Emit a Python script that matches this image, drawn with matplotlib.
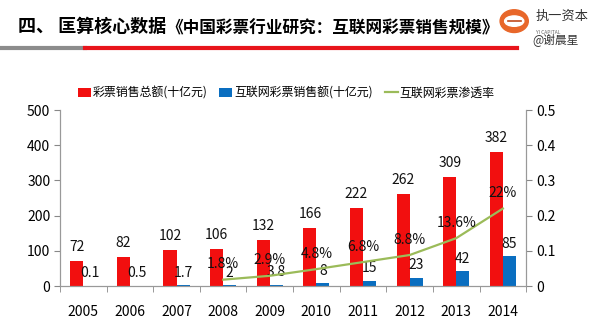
import matplotlib.pyplot as plt
import matplotlib.patches as mpatches
import numpy as np

plt.rcParams['font.family'] = ['Noto Sans CJK SC', 'DejaVu Sans']

# data
years = ["2005", "2006", "2007", "2008", "2009", "2010", "2011", "2012", "2013", "2014"]
total_sales = [72, 82, 102, 106, 132, 166, 222, 262, 309, 382]
online_sales = [0.1, 0.5, 1.7, 2, 3.8, 8, 15, 23, 42, 85]
online_labels = ["0.1", "0.5", "1.7", "2", "3.8", "8", "15", "23", "42", "85"]
rate_years = ["2008", "2009", "2010", "2011", "2012", "2013", "2014"]
rate = [0.018, 0.029, 0.048, 0.068, 0.088, 0.136, 0.22]
rate_labels = ["1.8%", "2.9%", "4.8%", "6.8%", "8.8%", "13.6%", "22%"]

red = "#F20F0F"
blue = "#0A6EC0"
green = "#9BBB59"

fig = plt.figure(figsize=(6, 3.25), dpi=100)
ax1 = fig.add_axes([0.1, 0.12, 0.777, 0.5415])

x = np.arange(len(years))
w = 0.28
ax1.bar(x - w / 2, total_sales, width=w, color=red, label="彩票销售总额(十亿元)")
ax1.bar(x + w / 2, online_sales, width=w, color=blue, label="互联网彩票销售额(十亿元)")

for xi, v in zip(x, total_sales):
    ax1.annotate(str(v), (xi - w / 2, v), xytext=(0, 5), textcoords="offset points",
                 ha="center", va="bottom", fontsize=10, color="#111111")
for xi, v, t in zip(x, online_sales, online_labels):
    ax1.annotate(t, (xi + w / 2, v), xytext=(0, 4), textcoords="offset points",
                 ha="center", va="bottom", fontsize=10, color="#111111")

ax1.set_xlim(-0.5, len(years) - 0.5)
ax1.set_ylim(0, 500)
ax1.set_yticks([0, 100, 200, 300, 400, 500])
ax1.set_xticks(x)
ax1.set_xticklabels(years)
ax1.set_xticks(np.arange(-0.5, len(years)), minor=True)
ax1.tick_params(axis="x", which="major", length=0, pad=14, labelsize=10)
ax1.tick_params(axis="x", which="minor", length=4, color="#888888")
ax1.tick_params(axis="y", length=4, color="#888888", labelsize=10, pad=3)

# penetration rate line
ax2 = ax1.twinx()
rx = [years.index(y) for y in rate_years]
ax2.plot(rx, rate, color=green, linewidth=1.6, label="互联网彩票渗透率")
for xi, v, t in zip(rx, rate, rate_labels):
    ax2.annotate(t, (xi, v), xytext=(0, 6), textcoords="offset points",
                 ha="center", va="bottom", fontsize=10, color="#111111")
ax2.set_ylim(0, 0.5)
ax2.set_yticks([0, 0.1, 0.2, 0.3, 0.4, 0.5])
ax2.set_yticklabels(["0", "0.1", "0.2", "0.3", "0.4", "0.5"])
ax2.tick_params(axis="y", length=4, color="#888888", labelsize=10, pad=3)

for a in (ax1, ax2):
    a.spines["top"].set_visible(False)
    for s in ("left", "right", "bottom"):
        a.spines[s].set_color("#999999")
        a.spines[s].set_linewidth(0.8)

# legend
h1, l1 = ax1.get_legend_handles_labels()
h2, l2 = ax2.get_legend_handles_labels()
fig.legend(h1 + h2, l1 + l2, loc="center", bbox_to_anchor=(0.477, 0.714), ncol=3,
           frameon=False, fontsize=8.6, handlelength=1.1, handleheight=0.8,
           columnspacing=1.0, handletextpad=0.15, borderpad=0)

# header
fig.text(0.03, 0.918, "四、 匡算核心数据", fontsize=13, fontweight="bold", va="center")
fig.text(0.277, 0.912, "《中国彩票行业研究：互联网彩票销售规模》", fontsize=12,
         fontweight="bold", va="center")
fig.add_artist(plt.Line2D([0, 0.142], [0.852, 0.852], color="#8c8c8c", linewidth=3))
fig.add_artist(plt.Line2D([0.142, 0.862], [0.852, 0.852], color="#E8141B", linewidth=3))

# logo
logo = mpatches.Ellipse((0.857, 0.935), 0.047, 0.07, color="#E8672A")
fig.add_artist(logo)
fig.add_artist(mpatches.Ellipse((0.857, 0.935), 0.032, 0.032, color="white"))
fig.add_artist(plt.Line2D([0.846, 0.868], [0.935, 0.935], color="#C04A1C", linewidth=1.2))
fig.text(0.892, 0.95, "执一资本", fontsize=9.5, color="#333333", va="center")
fig.text(0.894, 0.9, "YI CAPITAL", fontsize=3.5, color="#666666", va="center")
fig.text(0.888, 0.875, "@谢晨星", fontsize=8.5, color="#333333", va="center")

fig.savefig("out.png", dpi=100)
